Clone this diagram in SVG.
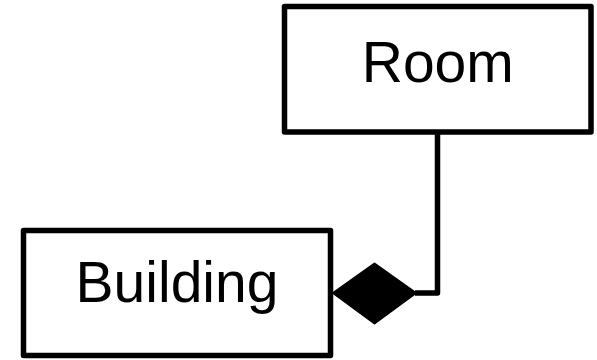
<svg xmlns="http://www.w3.org/2000/svg" width="597" height="360" viewBox="0 0 597 360">
  <style>
    .box { fill: #ffffff; stroke: #000000; stroke-width: 5.5; stroke-linejoin: round; }
    .label { font-family: "Liberation Sans", Arial, sans-serif; font-size: 57px; fill: #000000; text-anchor: middle; }
    .wire { fill: none; stroke: #000000; stroke-width: 5.5; stroke-linejoin: round; }
    .diamond { fill: #000000; stroke: #000000; stroke-width: 2; stroke-linejoin: round; }
  </style>
  <g id="connectors">
    <!-- composition: Room (part) to Building (whole) -->
    <path class="wire" d="M437.5,132 V293 H415"/>
    <polygon class="diamond" points="333,293 374.5,263.5 416,293 374.5,323.5"/>
  </g>
  <g id="room">
    <rect class="box" x="284.5" y="6.5" width="306.5" height="125.5"/>
    <text class="label" x="437.75" y="82">Room</text>
  </g>
  <g id="building">
    <rect class="box" x="23.5" y="230.5" width="307" height="125"/>
    <text class="label" x="177" y="301.5">Building</text>
  </g>
</svg>
